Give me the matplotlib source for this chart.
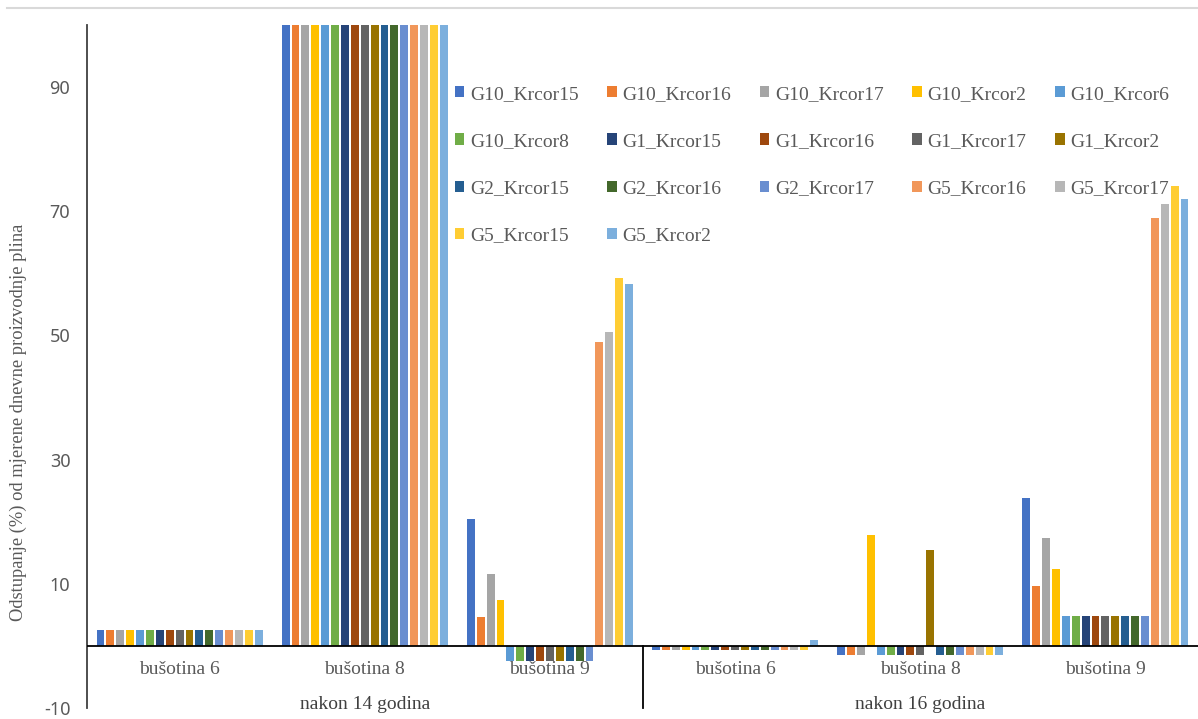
import numpy as np
import matplotlib
matplotlib.use('Agg')
import matplotlib.pyplot as plt
from matplotlib.lines import Line2D

plt.rcParams['font.family'] = ['Liberation Serif', 'DejaVu Serif']
plt.rcParams['axes.unicode_minus'] = False

# categories (two levels)
wells = ['bušotina 6', 'bušotina 8', 'bušotina 9', 'bušotina 6', 'bušotina 8', 'bušotina 9']
periods = ['nakon 14 godina', 'nakon 16 godina']

series = ['G10_Krcor15', 'G10_Krcor16', 'G10_Krcor17', 'G10_Krcor2', 'G10_Krcor6',
          'G10_Krcor8', 'G1_Krcor15', 'G1_Krcor16', 'G1_Krcor17', 'G1_Krcor2',
          'G2_Krcor15', 'G2_Krcor16', 'G2_Krcor17', 'G5_Krcor16', 'G5_Krcor17',
          'G5_Krcor15', 'G5_Krcor2']

colors = ['#4472C4', '#ED7D31', '#A5A5A5', '#FFC000', '#5B9BD5', '#70AD47',
          '#264478', '#9E480E', '#636363', '#997300', '#255E91', '#43682B',
          '#698ED0', '#F1975A', '#B7B7B7', '#FFCD33', '#7CAFDD']

# one list per category, values in series order
b6_14 = [2.6] * 17
b8_14 = [100] * 17
b9_14 = [20.4, 4.6, 11.6, 7.4, -2.4, -2.4, -2.4, -2.4, -2.4, -2.4, -2.4, -2.4, -2.4,
         48.9, 50.6, 59.3, 58.3]
b6_16 = [-0.7] * 16 + [1.0]
b8_16 = [-1.5, -1.5, -1.5, 17.8, -1.5, -1.5, -1.5, -1.5, -1.5, 15.4, -1.5, -1.5, -1.5,
         -1.5, -1.5, -1.5, -1.5]
b9_16 = [23.8, 9.6, 17.3, 12.4, 4.8, 4.8, 4.8, 4.8, 4.8, 4.8, 4.8, 4.8, 4.8,
         68.9, 71.2, 74.0, 71.9]

data = np.array([b6_14, b8_14, b9_14, b6_16, b8_16, b9_16])

fig = plt.figure(figsize=(11.98, 7.19), dpi=100)
ax = fig.add_axes([87 / 1198, 11 / 719, 1 - 87 / 1198, 683 / 719])

n = len(series)
slot = 0.908 / n
x = np.arange(len(wells))
handles = []
for i, name in enumerate(series):
    pos = x - 0.454 + slot * (i + 0.5)
    h = ax.bar(pos, data[:, i], width=slot * 0.8, color=colors[i], label=name, zorder=2)
    handles.append(h)

ax.set_xlim(-0.5, len(wells) - 0.5)
ax.set_ylim(-10, 100)
ax.set_yticks([-10, 10, 30, 50, 70, 90])
ax.tick_params(axis='y', length=0, pad=12, labelcolor='#595959')
for t in ax.get_yticklabels():
    t.set_family(['Noto Sans', 'DejaVu Sans'])
    t.set_fontsize(13)
    t.set_verticalalignment('center_baseline')
ax.set_xticks([])
for s in ['top', 'right', 'bottom']:
    ax.spines[s].set_visible(False)
ax.spines['left'].set_color('#404040')
ax.spines['left'].set_linewidth(1.3)
ax.axhline(0, color='black', linewidth=1.3, zorder=3)

# category labels
for i, w in enumerate(wells):
    ax.annotate(w, xy=(i, 0), xycoords='data', xytext=(0, -17), textcoords='offset points',
                ha='center', va='center', fontsize=14, color='#595959')
for j, p in enumerate(periods):
    ax.annotate(p, xy=(1 + 3 * j, 0), xycoords='data', xytext=(0, -42), textcoords='offset points',
                ha='center', va='center', fontsize=14, color='#404040')
ax.plot([2.5, 2.5], [0, -10], color='black', linewidth=1.3, clip_on=False, zorder=3)

fig.text(18 / 1198, 1 - 422 / 719, 'Odstupanje (%) od mjerene dnevne proizvodnje plina',
         rotation=90, ha='center', va='center', fontsize=13.3, color='#595959')

# thin border line at the top
fig.add_artist(Line2D([7 / 1198, 1], [1 - 8 / 719, 1 - 8 / 719], color='#D9D9D9', linewidth=1.5))

# legend, filled row by row like excel
order = [0, 5, 10, 15, 1, 6, 11, 16, 2, 7, 12, 3, 8, 13, 4, 9, 14]
leg = ax.legend([handles[k] for k in order], [series[k] for k in order], ncol=5,
                loc='upper left', bbox_to_anchor=(358 / 1111, 1 - 51 / 683),
                frameon=False, fontsize=14, handlelength=0.5, handleheight=0.5,
                handletextpad=0.3, columnspacing=1.45, labelspacing=1.55, borderpad=0)
for t in leg.get_texts():
    t.set_color('#595959')

fig.savefig('out.png', dpi=100)
